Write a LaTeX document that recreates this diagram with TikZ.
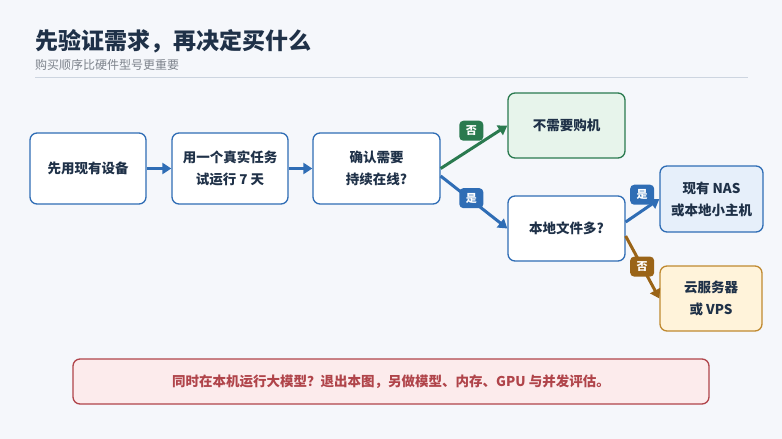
\documentclass[tikz,border=0pt]{standalone}
\usepackage{fontspec}
\setmainfont{Noto Sans CJK SC}
\usepackage{tikz}
\usetikzlibrary{arrows.meta}

\definecolor{bgcol}{HTML}{F5F7FB}
\definecolor{ink}{HTML}{1F3148}
\definecolor{subgray}{HTML}{7D838C}
\definecolor{rulecol}{HTML}{CDD5E0}
\definecolor{flowblue}{HTML}{2F6DB5}
\definecolor{nasfill}{HTML}{E6EFFA}
\definecolor{okgreen}{HTML}{2A7A4F}
\definecolor{okfill}{HTML}{E7F4EB}
\definecolor{vpsbrown}{HTML}{9A6418}
\definecolor{vpsline}{HTML}{C08A30}
\definecolor{vpsfill}{HTML}{FFF3DA}
\definecolor{warnred}{HTML}{B0444A}
\definecolor{warnfill}{HTML}{FCEBEC}

\tikzset{
  stepbox/.style={draw=flowblue, line width=1.3pt, rounded corners=7pt, fill=white,
    minimum width=116pt, minimum height=71pt, align=center, text=ink,
    font=\fontsize{13.5}{22}\selectfont\bfseries},
  tag/.style={rounded corners=4pt, text=white, minimum width=24pt, minimum height=20pt,
    inner sep=0pt, font=\fontsize{11}{11}\selectfont\bfseries},
  flow/.style={line width=3pt, -{Triangle[length=9pt,width=11pt]}},
}

\begin{document}
\begin{tikzpicture}[x=1pt, y=-1pt]
    \useasboundingbox[fill=bgcol] (0,0) rectangle (782,439);

    % titolo
    \node[anchor=west, inner sep=0pt, text=ink, font=\fontsize{23}{23}\selectfont\bfseries] (title) at (35,41) {先验证需求，再决定买什么};
    \node[anchor=west, inner sep=0pt, text=subgray, font=\fontsize{12}{12}\selectfont] (subtitle) at (35,65) {购买顺序比硬件型号更重要};
    \draw[rulecol, line width=1pt] (35,77) -- (748,77);

    % riga principale
    \node[stepbox] (dev) at (88,168.5) {先用现有设备};
    \node[stepbox] (trial) at (230,168.5) {用一个真实任务\\试运行 7 天};
    \node[stepbox, minimum width=127pt] (online) at (376.5,168.5) {确认需要\\持续在线?};

    \node[stepbox, draw=okgreen, fill=okfill, minimum width=117pt, minimum height=65pt] (nobuy) at (566.5,125.5) {不需要购机};
    \node[stepbox, minimum width=117pt, minimum height=65pt] (files) at (566.5,228.5) {本地文件多?};
    \node[stepbox, fill=nasfill, minimum width=103pt, minimum height=66pt] (nas) at (711.5,199) {现有 NAS\\或本地小主机};
    \node[stepbox, draw=vpsline, fill=vpsfill, minimum width=102pt, minimum height=65pt] (vps) at (711,298.5) {云服务器\\或 VPS};

    \node[draw=warnred, line width=1.3pt, rounded corners=7pt, fill=warnfill, minimum width=636pt, minimum height=45pt,
      text=warnred, font=\fontsize{13.5}{13.5}\selectfont\bfseries] (warn) at (391,381.5)
      {同时在本机运行大模型？退出本图，另做模型、内存、GPU 与并发评估。};

    \draw[flow, flowblue] (dev) -- (trial);
    \draw[flow, flowblue] (trial) -- (online);
    \draw[flow, okgreen] (online.east) -- (nobuy.west)
      node[tag, fill=okgreen, pos=.46, yshift=18pt] (tno) {否};
    \draw[flow, flowblue] ([yshift=-7.5pt]online.east) -- (files.west)
      node[tag, fill=flowblue, pos=.46, yshift=2pt] (tyes) {是};
    \draw[flow, flowblue] ([yshift=6.5pt]files.east) -- (nas.west)
      node[tag, fill=flowblue, pos=.49, yshift=16pt] (tyes2) {是};
    \draw[flow, vpsbrown] ([yshift=-7.5pt]files.east) -- (vps.west)
      node[tag, fill=vpsbrown, pos=.49] (tno2) {否};
\end{tikzpicture}
\end{document}
